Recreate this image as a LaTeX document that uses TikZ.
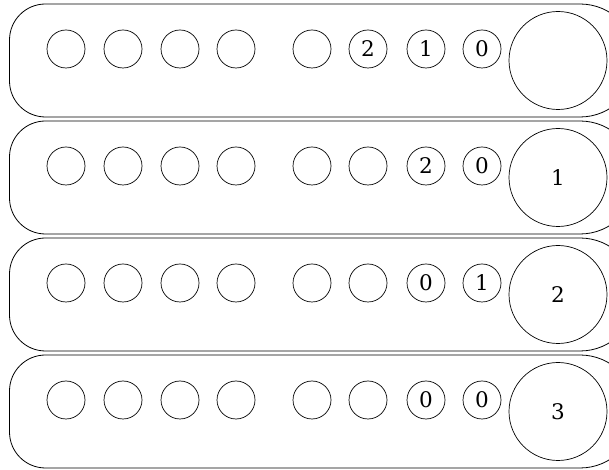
\documentclass[tikz,border=0pt]{standalone}
\usepackage{fontspec}
\setmainfont{DejaVu Serif}
\newcommand{\dg}[1]{\scalebox{2.15}{#1}}
\begin{document}
\begin{tikzpicture}[x=1pt,y=1pt,
  panel/.style={draw,line width=0.8pt},
  hole/.style={circle,draw,line width=0.7pt,minimum size=38pt,inner sep=0pt},
  bighole/.style={circle,draw,line width=0.7pt,minimum size=98pt,inner sep=0pt}]
\useasboundingbox (0,0) rectangle (609,470);
\clip (0,0) rectangle (609,470);
\foreach \k in {0,1,2,3}{
  \pgfmathsetmacro{\tp}{470-4-117*\k}
  \pgfmathsetmacro{\bt}{\tp-113}
  \draw[panel] (580,\tp) -- (45.5,\tp) arc[start angle=90,end angle=180,radius=36]
     -- (9.5,\bt+36) arc[start angle=180,end angle=270,radius=36]
     -- (580,\bt) arc[start angle=-90,end angle=90,radius=56.5] -- cycle;
}
% row 1
\foreach \x [count=\i] in {66,123,180,236,312}{ \node[hole] (a\i) at (\x,421) {}; }
\node[hole] (a6) at (368,421) {\dg{2}};
\node[hole] (a7) at (426,421) {\dg{1}};
\node[hole] (a8) at (482,421) {\dg{0}};
\node[bighole] (A) at (558,409.5) {};
% row 2
\foreach \x [count=\i] in {66,123,180,236,312,368}{ \node[hole] (b\i) at (\x,304) {}; }
\node[hole] (b7) at (426,304) {\dg{2}};
\node[hole] (b8) at (482,304) {\dg{0}};
\node[bighole] (B) at (558,292.5) {\dg{1}};
% row 3
\foreach \x [count=\i] in {66,123,180,236,312,368}{ \node[hole] (c\i) at (\x,187) {}; }
\node[hole] (c7) at (426,187) {\dg{0}};
\node[hole] (c8) at (482,187) {\dg{1}};
\node[bighole] (C) at (558,175.5) {\dg{2}};
% row 4
\foreach \x [count=\i] in {66,123,180,236,312,368}{ \node[hole] (d\i) at (\x,70) {}; }
\node[hole] (d7) at (426,70) {\dg{0}};
\node[hole] (d8) at (482,70) {\dg{0}};
\node[bighole] (D) at (558,58.5) {\dg{3}};
\end{tikzpicture}
\end{document}
